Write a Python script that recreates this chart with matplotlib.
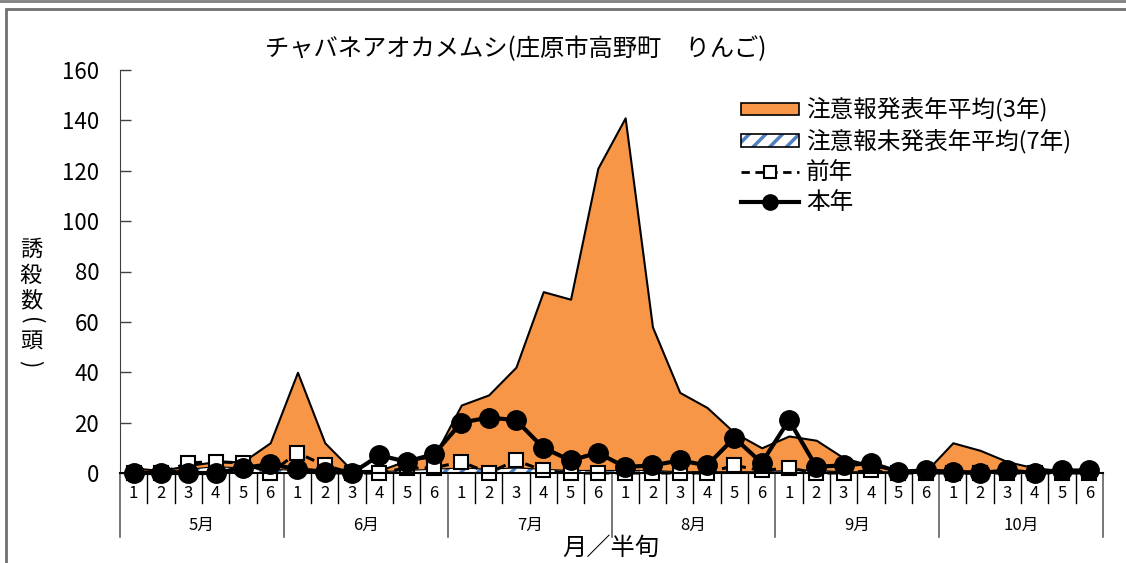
import matplotlib
matplotlib.use("Agg")
import matplotlib.pyplot as plt
import matplotlib.transforms as mtransforms
from matplotlib.patches import Patch, Rectangle
from matplotlib.lines import Line2D
from matplotlib.legend_handler import HandlerTuple

plt.rcParams['font.family'] = ['Noto Sans CJK JP', 'DejaVu Sans']
plt.rcParams['hatch.linewidth'] = 2.5

# ---------------- data ----------------
months = ['5月', '6月', '7月', '8月', '9月', '10月']
halves = ['1', '2', '3', '4', '5', '6']

alert_avg3 = [2, 1, 3, 4.5, 4.5, 12,
              40, 12, 1, 1, 5, 6.5,
              27, 31, 42, 72, 69, 121,
              141, 58, 32, 26, 16, 10,
              14.7, 13, 6, 3, 1, 0.5,
              12, 9, 4.5, 2, 1, 0.5]
noalert_avg7 = [0.5, 0.5, 1.5, 2.5, 2, 1.5,
                1, 1, 0.5, 0.5, 1, 1.5,
                2, 1.5, 2, 1.5, 1, 1,
                1, 1, 0.5, 0.5, 0.5, 0.5,
                1, 1, 0.5, 0.5, 0.5, 0.5,
                0.5, 1, 0.5, 0.3, 0.3, 0.3]
prev_year = [0, 0, 4, 4.5, 4, 0,
             8, 3, 0, 0, 2, 2,
             4.5, 0, 5, 1, 0, 0,
             0, 0, 0, 0, 3, 1,
             2, 0, 0, 1, 0, 0,
             0, 0, 0, 0, 0, 0]
this_year = [0, 0, 0, 0, 2, 3.5,
             1.5, 0.5, 0, 7, 4.5, 7.5,
             20, 22, 21, 10, 5, 8,
             2.4, 3, 5, 3, 14, 4,
             21, 2.5, 3, 4, 0.5, 1,
             0.5, 0, 1, 0, 1, 1]

title = 'チャバネアオカメムシ(庄原市高野町　りんご)'
legend_labels = ['注意報発表年平均(3年)', '注意報未発表年平均(7年)', '前年', '本年']
ylabel_chars = ['誘', '殺', '数', '(', '頭', ')']
xlabel = '月／半旬'

# ---------------- figure ----------------
W, H = 1126, 563
fig = plt.figure(figsize=(W / 100, H / 100), dpi=100)
ax = fig.add_axes([120 / W, 1 - 473 / H, (1103 - 120) / W, (473 - 70) / H])

n = len(months) * len(halves)
x = list(range(n))

orange = '#F79646'
blue = '#4F81BD'

ax.fill_between(x, 0, alert_avg3, facecolor=orange, edgecolor='black', linewidth=1.5, zorder=2)
ax.fill_between(x, 0, noalert_avg7, facecolor='white', edgecolor=blue, hatch='//', linewidth=0, zorder=3)
ax.fill_between(x, 0, noalert_avg7, facecolor='none', edgecolor='black', linewidth=0.8, zorder=3)

ax.plot(x, prev_year, linestyle=(0, (3, 2)), color='black', linewidth=2.2,
        marker='s', markersize=10, markerfacecolor='white', markeredgecolor='black',
        markeredgewidth=1.5, zorder=4, clip_on=False)
ax.plot(x, this_year, linestyle='-', color='black', linewidth=3,
        marker='o', markersize=14, markerfacecolor='black', markeredgecolor='black',
        zorder=5, clip_on=False)

ax.set_xlim(-0.5, n - 0.5)
ax.set_ylim(0, 160)
ax.set_yticks(range(0, 161, 20))
ax.tick_params(axis='y', direction='in', length=8, width=1, color='#404040',
               labelsize=16, pad=15)
ax.set_xticks([])
for s in ['top', 'right']:
    ax.spines[s].set_visible(False)
ax.spines['left'].set_color('#404040')
ax.spines['bottom'].set_color('black')
ax.spines['bottom'].set_linewidth(1.5)
ax.spines['bottom'].set_zorder(6)

# two-level category axis
trans = mtransforms.blended_transform_factory(ax.transData, ax.transAxes)
axh = 473 - 70
short = -30 / axh
long_ = -64 / axh
for i in range(n + 1):
    xpos = i - 0.5
    if i % 6 == 0:
        ax.plot([xpos, xpos], [0, long_], transform=trans, color='#606060', lw=1.2, clip_on=False)
    else:
        ax.plot([xpos, xpos], [0, short], transform=trans, color='black', lw=1.0, clip_on=False)
for i in range(n):
    ax.text(i, -20 / axh, halves[i % 6], transform=trans, ha='center', va='center', fontsize=12)
for m, name in enumerate(months):
    ax.text(m * 6 + 2.5, -52 / axh, name, transform=trans, ha='center', va='center', fontsize=12)

fig.text(611 / W, 1 - 548 / H, xlabel, ha='center', va='center', fontsize=17.5)
fig.text(516 / W, 1 - 49 / H, title, ha='center', va='center', fontsize=17.5)

ylab_y = [249, 275, 301, 321, 342, 364]
for ch, yy in zip(ylabel_chars, ylab_y):
    rot = -90 if ch in '()' else 0
    fig.text(31 / W, 1 - yy / H, ch, ha='center', va='center', fontsize=16,
             rotation=rot, rotation_mode='default')

# legend
h_orange = Patch(facecolor=orange, edgecolor='black', linewidth=1.2)
h_blue = (Patch(facecolor='white', edgecolor=blue, hatch='//', linewidth=0),
          Patch(facecolor='none', edgecolor='black', linewidth=1.2))
h_prev = Line2D([], [], linestyle=(0, (3, 2)), color='black', linewidth=2,
                marker='s', markersize=9, markerfacecolor='white', markeredgecolor='black', markeredgewidth=1.5)
h_this = Line2D([], [], linestyle='-', color='black', linewidth=3,
                marker='o', markersize=11, markerfacecolor='black')
leg = fig.legend([h_orange, h_blue, h_prev, h_this], legend_labels,
                 handler_map={tuple: HandlerTuple(ndivide=1, pad=0)},
                 loc='upper left', bbox_to_anchor=(741 / W, 1 - 98 / H),
                 frameon=False, fontsize=17, handlelength=2.45, handleheight=0.45,
                 handletextpad=0.3, labelspacing=0.3, borderpad=0, borderaxespad=0)

# outer frame
fig.add_artist(Line2D([0, 1], [1 - 1 / H, 1 - 1 / H], transform=fig.transFigure, color='#808080', lw=2))
fig.add_artist(Rectangle((6 / W, -0.1), 1.2, 1 - 9 / H + 0.1, transform=fig.transFigure,
                         facecolor='none', edgecolor='#707070', lw=2))

fig.savefig('out.png', dpi=100)
